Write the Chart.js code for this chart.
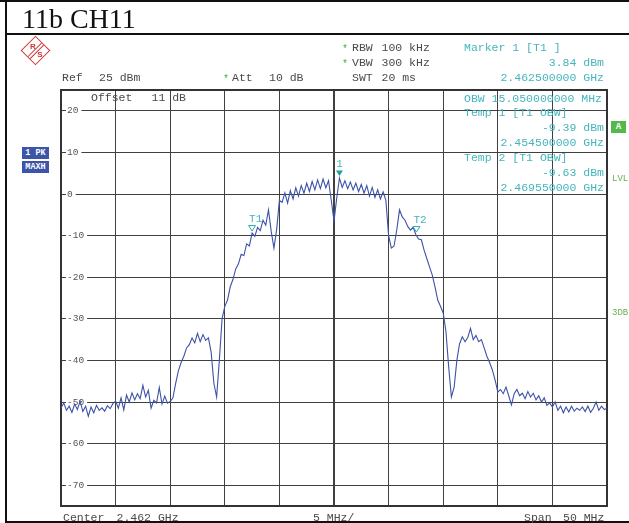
<!DOCTYPE html>
<html><head><meta charset="utf-8">
<script src="https://cdn.jsdelivr.net/npm/chart.js@4"></script>
<style>
body{margin:0;background:#fff;}
#wrap{position:relative;width:629px;height:523px;overflow:hidden;background:#fff;}
canvas{position:absolute;left:0;top:0;}
.ln{position:absolute;background:#111;}
.t{position:absolute;font-family:"Liberation Mono","DejaVu Sans Mono",monospace;font-size:11.5px;line-height:13px;white-space:pre;color:#4a4a4a;}
.c{color:#45b5bb;}
.r{text-align:right;right:25px;}
.g{color:#3cb54a;font-size:9px;}
.title{position:absolute;left:22px;top:5px;font-family:"Liberation Serif","Times New Roman",serif;font-size:28px;line-height:28px;color:#111;white-space:pre;}
.box{position:absolute;left:22px;width:27px;height:12px;background:#3d55a8;color:#fff;font-family:"Liberation Mono",monospace;font-size:8.5px;font-weight:bold;line-height:12px;text-align:center;}
.gbox{position:absolute;left:611px;top:121px;width:15px;height:12px;background:#55b84a;color:#fff;font-family:"Liberation Mono",monospace;font-size:9px;font-weight:bold;line-height:12px;text-align:center;}
.gt{position:absolute;left:612px;font-family:"Liberation Mono",monospace;font-size:9px;line-height:10px;color:#6ab04c;white-space:pre;}
.logo{position:absolute;left:25px;top:40px;width:19px;height:19px;border:1.5px solid #cf3434;transform:rotate(45deg);}
.logo .s{position:absolute;top:0;width:1px;height:19px;background:#cf3434;}
.logo .l{position:absolute;font-family:"Liberation Sans",sans-serif;font-size:8px;font-weight:bold;color:#cf3434;transform:rotate(-45deg);}
</style></head>
<body>
<div id="wrap">
<canvas id="c" width="629" height="523"></canvas>
<div class="ln" style="left:0;top:0;width:629px;height:2px"></div>
<div class="ln" style="left:5px;top:0;width:2px;height:523px"></div>
<div class="ln" style="left:5px;top:33px;width:624px;height:2px"></div>
<div class="ln" style="left:5px;top:521px;width:624px;height:2px"></div>
<div class="title">11b CH11</div>
<div class="logo"><div class="s" style="left:8px"></div><div class="s" style="left:11px"></div><span class="l" style="left:2px;top:4px">R</span><span class="l" style="left:13px;top:5px">S</span></div>

<div class="t" style="left:62px;top:71px">Ref</div>
<div class="t" style="left:99px;top:71px">25 dBm</div>
<div class="t g" style="left:223px;top:73px;font-size:10px">*</div>
<div class="t" style="left:232px;top:71px">Att</div>
<div class="t" style="left:269px;top:71px">10 dB</div>
<div class="t g" style="left:342px;top:43px;font-size:10px">*</div>
<div class="t" style="left:352px;top:41px">RBW</div>
<div class="t" style="left:381.5px;top:41px">100 kHz</div>
<div class="t g" style="left:342px;top:58px;font-size:10px">*</div>
<div class="t" style="left:352px;top:56px">VBW</div>
<div class="t" style="left:381.5px;top:56px">300 kHz</div>
<div class="t" style="left:352px;top:71px">SWT</div>
<div class="t" style="left:381.5px;top:71px">20 ms</div>

<div class="t c" style="left:464px;top:41px">Marker 1 [T1 ]</div>
<div class="t c r" style="top:56px">3.84 dBm</div>
<div class="t c r" style="top:71px">2.462500000 GHz</div>
<div class="t c" style="left:464px;top:92px">OBW 15.050000000 MHz</div>
<div class="t c" style="left:464px;top:106px">Temp 1 [T1 OBW]</div>
<div class="t c r" style="top:121px">-9.39 dBm</div>
<div class="t c r" style="top:136px">2.454500000 GHz</div>
<div class="t c" style="left:464px;top:151px">Temp 2 [T1 OBW]</div>
<div class="t c r" style="top:166px">-9.63 dBm</div>
<div class="t c r" style="top:181px">2.469550000 GHz</div>

<div class="t" style="left:91px;top:91px">Offset</div>
<div class="t" style="left:151.5px;top:91px">11 dB</div>

<div class="box" style="top:147px">1 PK</div>
<div class="box" style="top:161px">MAXH</div>
<div class="gbox">A</div>
<div class="gt" style="top:174px">LVL</div>
<div class="gt" style="top:308px">3DB</div>

<div class="t" style="left:63px;top:511px">Center</div>
<div class="t" style="left:116.5px;top:511px">2.462 GHz</div>
<div class="t" style="left:313px;top:511px">5 MHz/</div>
<div class="t" style="left:524px;top:511px">Span</div>
<div class="t" style="left:563px;top:511px">50 MHz</div>
</div>
<script>
// Sweep: offset from center frequency 2.462 GHz, in MHz
const SWEEP_START_MHZ = -25;
const SWEEP_STEP_MHZ = 0.25;
// Trace 1 (PK, MAXH) levels in dBm
const traceLevels = [
 -51.5,-50.2,-52.0,-51.0,-52.5,-50.5,-51.8,-49.8,-52.3,-51.0,
 -53.4,-51.2,-52.6,-50.8,-52.0,-51.4,-52.2,-50.9,-51.6,-50.4,
 -49.8,-51.5,-49.0,-51.9,-48.3,-50.0,-47.8,-49.5,-48.0,-49.2,
 -46.0,-48.8,-47.2,-51.5,-49.6,-50.2,-46.5,-50.5,-48.6,-50.3,
 -49.9,-49.0,-45.5,-42.5,-40.5,-39.0,-37.0,-36.2,-34.6,-35.8,
 -33.5,-35.5,-33.8,-35.2,-34.6,-38.0,-45.5,-48.8,-40.0,-30.0,
 -27.0,-25.5,-22.3,-20.5,-18.0,-16.8,-14.5,-14.8,-12.0,-12.5,
 -9.4,-10.2,-8.0,-8.8,-6.3,-7.5,-3.8,-9.0,-13.0,-8.5,
 -1.5,-2.0,0.3,-2.2,0.8,-1.2,1.5,-0.5,2.0,0.2,
 2.6,0.6,3.0,1.0,3.4,1.3,3.6,1.5,3.2,-1.5,
 -6.5,-1.0,3.84,1.6,3.2,1.3,2.9,1.0,2.6,0.6,
 2.3,0.2,2.0,-0.5,1.6,-0.8,1.0,-1.2,0.5,-1.5,
 -10.0,-13.0,-12.5,-8.6,-3.8,-5.5,-6.3,-7.8,-8.7,-8.0,
 -9.8,-10.8,-11.0,-13.5,-15.5,-17.5,-19.5,-22.3,-25.5,-27.0,
 -28.6,-33.0,-41.5,-48.8,-46.5,-40.0,-36.0,-34.3,-35.5,-34.5,
 -32.3,-35.0,-34.0,-35.5,-35.0,-37.0,-39.0,-40.5,-42.3,-44.7,
 -47.6,-47.0,-48.0,-46.4,-48.5,-50.7,-48.0,-47.0,-48.5,-47.9,
 -49.2,-47.5,-48.8,-47.9,-49.5,-48.5,-50.0,-49.0,-50.8,-50.2,
 -51.2,-50.0,-52.0,-51.0,-52.6,-51.2,-52.4,-51.0,-52.2,-51.5,
 -52.0,-51.2,-52.3,-51.0,-52.5,-51.5,-50.0,-52.0,-51.0,-51.8,
 -51.5
];
// Axis ticks
const yTicks = [20,10,0,-10,-20,-30,-40,-50,-60,-70];
const xGridMHz = [-20,-15,-10,-5,0,5,10,15,20];
// Markers
const markerLabels = ['1','T1','T2'];
const markerFreqsMHz = [0.5,-7.5,7.55];
const markerLevels = [3.84,-9.39,-9.63];
const markerFilled = [true,false,false];

const points = traceLevels.map((v,i)=>({x: SWEEP_START_MHZ + i*SWEEP_STEP_MHZ, y: v}));

const framePlugin = {
  id:'frame',
  beforeDatasetsDraw(chart){
    const {ctx, chartArea:a} = chart;
    ctx.save();
    ctx.strokeStyle = '#333';
    ctx.lineWidth = 2;
    ctx.strokeRect(a.left, a.top, a.right-a.left, a.bottom-a.top);
    ctx.restore();
  }
};
const markerPlugin = {
  id:'markers',
  afterDatasetsDraw(chart){
    const {ctx, scales:{x, y}} = chart;
    ctx.save();
    markerLabels.forEach((lab,i)=>{
      const px = x.getPixelForValue(markerFreqsMHz[i]);
      const py = y.getPixelForValue(markerLevels[i]);
      ctx.beginPath();
      ctx.moveTo(px-3.5, py-7.5);
      ctx.lineTo(px+3.5, py-7.5);
      ctx.lineTo(px, py-2);
      ctx.closePath();
      if (markerFilled[i]) { ctx.fillStyle = '#1f9e9e'; ctx.fill(); }
      else { ctx.strokeStyle = '#2fa9ab'; ctx.lineWidth = 1; ctx.stroke(); }
      ctx.fillStyle = '#45b5bb';
      ctx.font = '11px "Liberation Mono", monospace';
      ctx.textBaseline = 'middle';
      if (lab === '1') { ctx.textAlign = 'center'; ctx.fillText(lab, px, py-14); }
      else { ctx.textAlign = 'left'; ctx.fillText(lab, px-3, py-14); }
    });
    ctx.restore();
  }
};

new Chart(document.getElementById('c'), {
  type:'line',
  data:{datasets:[{data:points, borderColor:'#3d53a8', borderWidth:1.1, pointRadius:0, tension:0, fill:false}]},
  options:{
    responsive:false, animation:false, devicePixelRatio:1, events:[],
    layout:{padding:{left:61, top:90, right:22, bottom:17}},
    plugins:{legend:{display:false}, tooltip:{enabled:false}},
    scales:{
      x:{type:'linear', min:-25, max:25,
         afterBuildTicks:s=>{ s.ticks = xGridMHz.map(v=>({value:v})); },
         afterFit:s=>{ s.height = 0; },
         ticks:{display:false},
         border:{display:false},
         grid:{drawTicks:false, color:'#404040', lineWidth:c=>(c.tick && c.tick.value===0)?2:1}},
      y:{type:'linear', min:-75, max:25,
         afterBuildTicks:s=>{ s.ticks = yTicks.map(v=>({value:v})); },
         afterFit:s=>{ s.width = 0; },
         border:{display:false},
         grid:{drawTicks:false, color:'#404040', lineWidth:1},
         ticks:{mirror:true, padding:6, color:'#555',
                font:{family:'"Liberation Mono", monospace', size:9.5},
                showLabelBackdrop:true, backdropColor:'#fff',
                backdropPadding:{top:0,bottom:0,left:1,right:3}}}
    }
  },
  plugins:[framePlugin, markerPlugin]
});
</script>
</body></html>
